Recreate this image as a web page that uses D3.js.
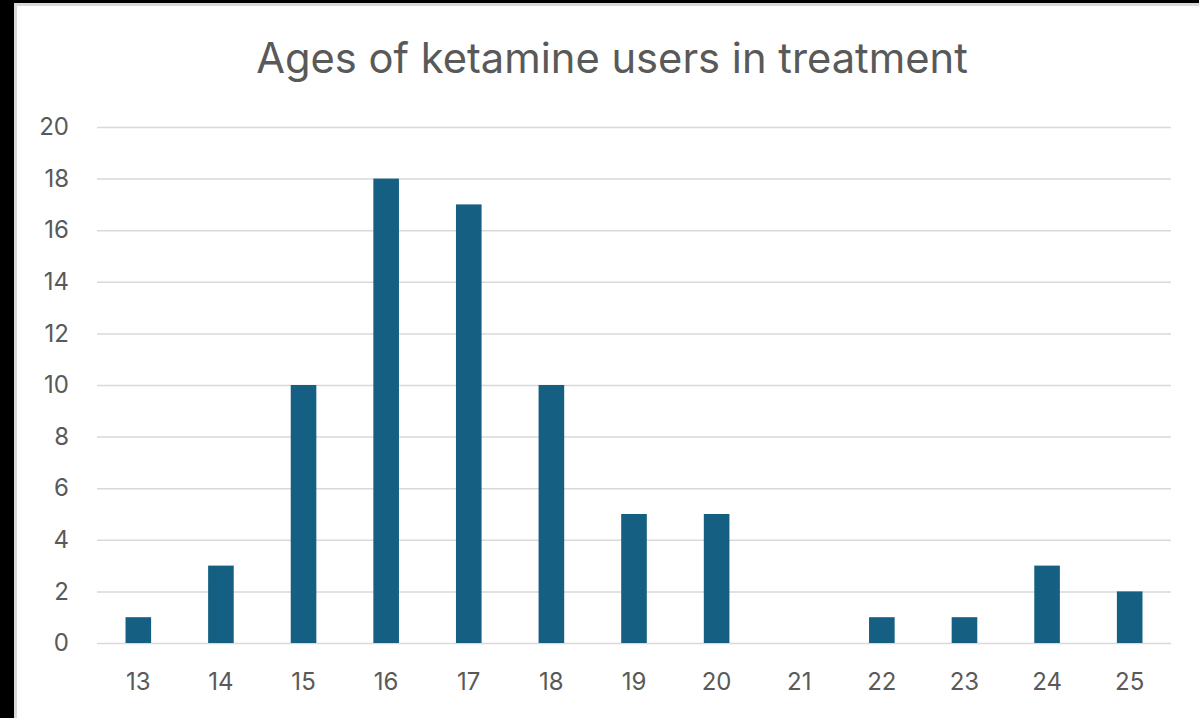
<!DOCTYPE html>
<html>
<head>
<meta charset="utf-8">
<script src="https://cdn.jsdelivr.net/npm/d3@7"></script>
<style>
  html, body { margin: 0; padding: 0; background: #000; }
  svg { display: block; }
  text { font-family: Inter, "Liberation Sans", sans-serif; fill: #595959; }
</style>
</head>
<body>
<script>
// data
const ages = ["13","14","15","16","17","18","19","20","21","22","23","24","25"];
const counts = [1, 3, 10, 18, 17, 10, 5, 5, 0, 1, 1, 3, 2];
const yTicks = [0, 2, 4, 6, 8, 10, 12, 14, 16, 18, 20];
const title = "Ages of ketamine users in treatment";

const W = 1199, H = 718;
let margin = {left: 97, right: 28, top: 127, bottom: 75};

let svg = d3.select("body").append("svg")
    .attr("width", W)
    .attr("height", H);

// black frame + light grey edge like the screenshot
svg.append("rect").attr("x", 0).attr("y", 0).attr("width", W).attr("height", H).attr("fill", "#000");
svg.append("rect").attr("x", 14).attr("y", 3).attr("width", W - 14).attr("height", H - 3).attr("fill", "#d9d9d9");
svg.append("rect").attr("x", 17).attr("y", 6).attr("width", W - 17).attr("height", H - 6).attr("fill", "#fff");

let width = W - margin.left - margin.right,
    height = 643 - margin.top;

let g = svg.append("g")
    .attr("transform", "translate(" + margin.left + "," + margin.top + ")");

// scales
let xScale = d3.scaleBand()
    .domain(ages)
    .range([0, width])
    .paddingInner(0.69)
    .paddingOuter(0.345);
let yScale = d3.scaleLinear()
    .domain([0, 20])
    .range([height, 0]);

// gridlines
let yGrid = d3.axisLeft(yScale).tickValues(yTicks).tickSize(-width).tickFormat("");
g.append("g")
    .attr("class", "grid")
    .call(yGrid)
    .call(s => s.select(".domain").remove())
    .selectAll("line")
    .attr("stroke", "#d9d9d9")
    .attr("stroke-width", 1.5);

// bars
g.selectAll("rect.bar")
    .data(counts)
    .enter()
    .append("rect")
    .attr("class", "bar")
    .attr("x", (d, i) => xScale(ages[i]))
    .attr("y", d => yScale(d))
    .attr("width", xScale.bandwidth())
    .attr("height", d => height - yScale(d))
    .attr("fill", "#156082");

// y axis labels
let yAxis = d3.axisLeft(yScale).tickValues(yTicks).tickSize(0).tickPadding(28);
g.append("g")
    .call(yAxis)
    .call(s => s.select(".domain").remove())
    .selectAll("text")
    .style("font-size", "24px")
    .attr("fill", "#595959")
    .attr("font-family", null);

// x axis labels
let xAxis = d3.axisBottom(xScale).tickSize(0).tickPadding(30);
g.append("g")
    .attr("transform", "translate(0," + height + ")")
    .call(xAxis)
    .call(s => s.select(".domain").remove())
    .selectAll("text")
    .style("font-size", "24px")
    .attr("fill", "#595959")
    .attr("font-family", null);

// title
let t = svg.append("text")
    .attr("x", (256 + 968) / 2)
    .attr("y", 73)
    .attr("text-anchor", "middle")
    .style("font-size", "40px")
    .text(title);
let len = t.node().getComputedTextLength();
t.style("font-size", (40 * 712 / len).toFixed(1) + "px");
</script>
</body>
</html>
